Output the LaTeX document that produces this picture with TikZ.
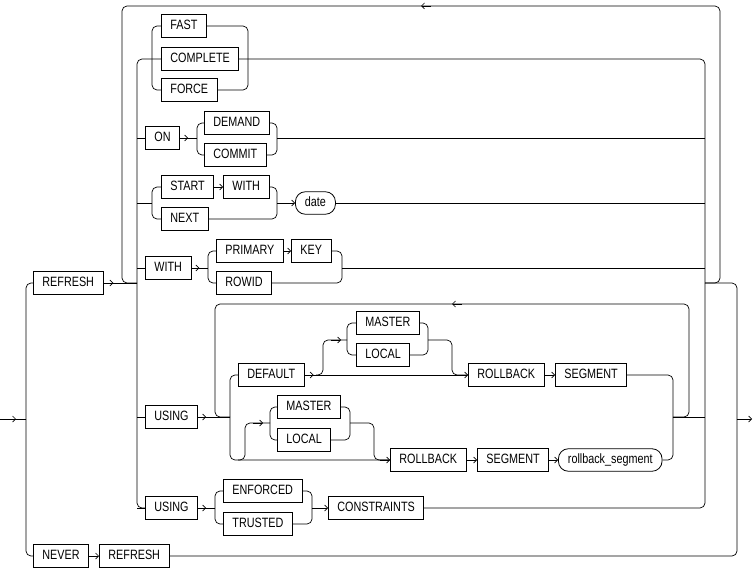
\documentclass[tikz,border=0pt]{standalone}
\usepackage{fontspec}
\usepackage{tikz}
\usetikzlibrary{
    arrows.meta,
    positioning
}
\newfontfamily\railfont[FakeStretch=0.8]{Liberation Sans}

\begin{document}
\begin{tikzpicture}[
        x=1pt, y=-1pt,
        kw/.style={rectangle, draw, line width=0.8pt, anchor=west, inner xsep=9pt, inner ysep=5pt,
            text height=10pt, text depth=2.5pt, font=\railfont\fontsize{13.5}{15}\selectfont},
        var/.style={kw, rounded corners=10pt, inner xsep=9.5pt},
        rail/.style={line width=0.7pt, rounded corners=5pt},
        arr/.style={rail, -{Straight Barb[length=3pt, width=6pt]}}
    ]
        \useasboundingbox (0,0) rectangle (754,569);

        % Junctions
        \coordinate (jin) at (26,419);
        \coordinate (jout) at (737,419);
        \coordinate (jA) at (137,283);
        \coordinate (jZ) at (705,283);

        % Row 0: REFRESH / NEVER REFRESH
        \node[kw] (refresh) at (33,283) {REFRESH};
        \node[kw] (never) at (33,556) {NEVER};
        \node[kw] (refreshB) at (99,556) {REFRESH};

        % Row 1: FAST / COMPLETE / FORCE
        \node[kw] (fast) at (161,26) {FAST};
        \node[kw] (complete) at (161,59) {COMPLETE};
        \node[kw] (force) at (161,90) {FORCE};

        % Row 2: ON
        \node[kw] (on) at (145,138) {ON};
        \node[kw] (demand) at (204,123) {DEMAND};
        \node[kw] (commit) at (204,155) {COMMIT};
        \coordinate (onL) at (197,138);
        \coordinate (onR) at (277,138);

        % Row 3: START WITH / NEXT
        \node[kw] (start) at (161,187) {START};
        \node[kw] (withA) at (223,187) {WITH};
        \node[kw] (next) at (161,219) {NEXT};
        \node[var] (date) at (295,203) {date};
        \coordinate (stL) at (152,203);
        \coordinate (stR) at (277,203);

        % Row 4: WITH
        \node[kw] (withB) at (145,268) {WITH};
        \node[kw] (primary) at (216,251) {PRIMARY};
        \node[kw] (key) at (291,251) {KEY};
        \node[kw] (rowid) at (216,283) {ROWID};
        \coordinate (wiL) at (208,268);
        \coordinate (wiR) at (342,268);

        % Row 5: USING ... ROLLBACK SEGMENT
        \node[kw] (using) at (145,417) {USING};
        \node[kw] (default) at (238,375) {DEFAULT};
        \node[kw] (masterA) at (356,323) {MASTER};
        \node[kw] (localA) at (356,355) {LOCAL};
        \node[kw] (rollbackA) at (468,375) {ROLLBACK};
        \node[kw] (segmentA) at (555,375) {SEGMENT};
        \node[kw] (masterB) at (277,407) {MASTER};
        \node[kw] (localB) at (277,440) {LOCAL};
        \node[kw] (rollbackB) at (390,460) {ROLLBACK};
        \node[kw] (segmentB) at (477,460) {SEGMENT};
        \node[var] (rbseg) at (558,460) {rollback\_segment};
        \coordinate (usL) at (230,417);
        \coordinate (usR) at (673,417);
        \coordinate (maL) at (347,340);
        \coordinate (maR) at (428,340);
        \coordinate (mbL) at (270,423);
        \coordinate (mbR) at (350,423);

        % Row 6: USING ... CONSTRAINTS
        \node[kw] (usingB) at (145,508) {USING};
        \node[kw] (enforced) at (223,491) {ENFORCED};
        \node[kw] (trusted) at (223,524) {TRUSTED};
        \node[kw] (constraints) at (328,508) {CONSTRAINTS};
        \coordinate (enL) at (215,508);
        \coordinate (enR) at (312,508);

        % Entry, exit
        \draw[rail] (0,419) -- (jin);
        \draw[arr] (0,419) -- (16,419);
        \draw[rail] (jin) |- (refresh.west);
        \draw[rail] (jin) |- (never.west);
        \draw[arr] (never.east) -- (refreshB.west);
        \draw[rail] (refreshB.east) -| (jout);
        \draw[rail] (jZ) -| (jout);
        \draw[arr] (jout) -- (752,419);

        % Repeat loop
        \draw[rail] (refresh.east) -- (jA);
        \draw[arr] (refresh.east) -- ++(10,0);
        \draw[rail] (jZ) -| (720,6) -| (122,283) -- (jA);
        \draw[arr] (431,6) -- (421,6);

        % Choice columns
        \draw[rail] (jA) |- (complete.west);
        \draw[rail] (jA) |- (usingB.west);
        \draw[rail] (complete.east) -| (jZ);
        \draw[rail] (constraints.east) -| (jZ);

        % Row 1
        \draw[rail] (fast.west) -| (stL |- complete.west) |- (force.west);
        \draw[rail] (fast.east) -| (248,59) |- (force.east);

        % Row 2
        \draw[rail] (jA |- on.west) -- (on.west);
        \draw[rail] (on.east) -- (onL);
        \draw[arr] (on.east) -- ++(8,0);
        \draw[rail] (demand.west) -| (onL) |- (commit.west);
        \draw[rail] (demand.east) -| (onR) |- (commit.east);
        \draw[rail] (onR) -- (jZ |- onR);

        % Row 3
        \draw[rail] (jA |- stL) -- (stL);
        \draw[rail] (start.west) -| (stL) |- (next.west);
        \draw[arr] (start.east) -- (withA.west);
        \draw[rail] (withA.east) -| (stR) |- (next.east);
        \draw[arr] (stR) -- (date.west);
        \draw[rail] (date.east) -- (jZ |- date.east);

        % Row 4
        \draw[rail] (jA |- withB.west) -- (withB.west);
        \draw[rail] (withB.east) -- (wiL);
        \draw[arr] (withB.east) -- ++(8,0);
        \draw[rail] (primary.west) -| (wiL) |- (rowid.west);
        \draw[arr] (primary.east) -- (key.west);
        \draw[rail] (key.east) -| (wiR) |- (rowid.east);
        \draw[rail] (wiR) -- (jZ |- wiR);

        % Row 5
        \draw[rail] (jA |- using.west) -- (using.west);
        \draw[rail] (using.east) -- (usL);
        \draw[arr] (using.east) -- ++(8,0);
        \draw[rail] (usR) -| (689,304) -| (215,417) -- (usL);
        \draw[arr] (462,304) -- (452,304);
        \draw[rail] (usR) -- (jZ |- usR);
        \draw[rail] (default.west) -| (usL) |- (rollbackB.west);
        \draw[arr] (default.east) -- ++(9,0);
        \draw[arr] (default.east) -- (rollbackA.west);
        \draw[rail] (316,375) -| (323,340) -- (maL);
        \draw[arr] (331,340) -- (341,340);
        \draw[rail] (masterA.west) -| (maL) |- (localA.west);
        \draw[rail] (masterA.east) -| (maR) |- (localA.east);
        \draw[rail] (maR) -| (452,375) -- (rollbackA.west);
        \draw[arr] (rollbackA.east) -- (segmentA.west);
        \draw[rail] (segmentA.east) -| (usR);
        \draw[rail] (rbseg.east) -| (usR);
        \draw[rail] (238,460) -| (245,423) -- (mbL);
        \draw[arr] (253,423) -- (263,423);
        \draw[rail] (masterB.west) -| (mbL) |- (localB.west);
        \draw[rail] (masterB.east) -| (mbR) |- (localB.east);
        \draw[rail] (mbR) -| (374,460) -- (rollbackB.west);
        \draw[arr] (380,460) -- (rollbackB.west);
        \draw[arr] (rollbackB.east) -- (segmentB.west);
        \draw[arr] (segmentB.east) -- (rbseg.west);

        % Row 6
        \draw[rail] (jA |- usingB.west) -- (usingB.west);
        \draw[rail] (usingB.east) -- (enL);
        \draw[arr] (usingB.east) -- ++(8,0);
        \draw[rail] (enforced.west) -| (enL) |- (trusted.west);
        \draw[rail] (enforced.east) -| (enR) |- (trusted.east);
        \draw[arr] (enR) -- (constraints.west);
    \end{tikzpicture}
\end{document}
